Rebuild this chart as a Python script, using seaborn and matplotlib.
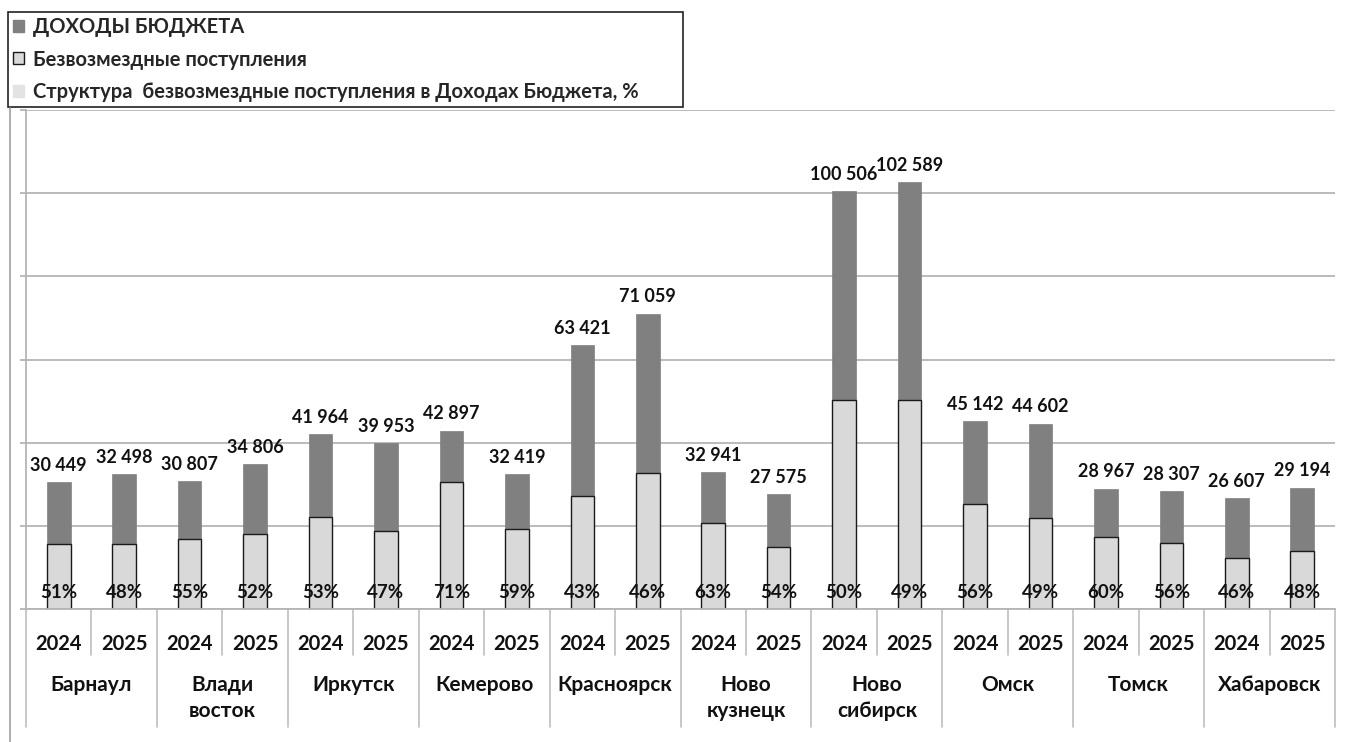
import matplotlib
matplotlib.use("Agg")
import matplotlib.pyplot as plt
import matplotlib.transforms as mtransforms
from matplotlib.lines import Line2D
from matplotlib.patches import Patch
import pandas as pd
import seaborn as sns

# data
cities = ["Барнаул", "Влади\nвосток", "Иркутск", "Кемерово", "Красноярск",
          "Ново\nкузнецк", "Ново\nсибирск", "Омск", "Томск", "Хабаровск"]
years = ["2024", "2025"]
income = [30449, 32498, 30807, 34806, 41964, 39953, 42897, 32419, 63421, 71059,
          32941, 27575, 100506, 102589, 45142, 44602, 28967, 28307, 26607, 29194]
grants = [15530, 15600, 16940, 18100, 22240, 18780, 30460, 19130, 27270, 32690,
          20750, 14890, 50250, 50270, 25280, 21860, 17380, 15850, 12240, 14010]
share = [51, 48, 55, 52, 53, 47, 71, 59, 43, 46,
         63, 54, 50, 49, 56, 49, 60, 56, 46, 48]

df = pd.DataFrame({
    "city": [c for c in cities for _ in years],
    "year": years * len(cities),
    "income": income,
    "grants": grants,
    "share": share,
})
df["slot"] = df["city"].str.replace("\n", " ") + " " + df["year"]

sns.set_theme(style="white")
plt.rcParams["font.family"] = ["Lato", "Noto Sans", "DejaVu Sans"]
plt.rcParams["font.weight"] = "bold"

W, H = 1346, 742
fig = plt.figure(figsize=(W / 100, H / 100), dpi=100)
ax = fig.add_axes([26 / W, (H - 609) / H, (1335 - 26) / W, (609 - 110) / H])

dark = "#808080"
light = "#d9d9d9"

sns.barplot(data=df, x="slot", y="income", order=df["slot"], color=dark,
            width=0.36, saturation=1, edgecolor=dark, linewidth=0.5, ax=ax)
sns.barplot(data=df, x="slot", y="grants", order=df["slot"], color=light,
            width=0.36, saturation=1, edgecolor="#1a1a1a", linewidth=1.0, ax=ax)

ax.set_xlim(-0.5, len(df) - 0.5)
ax.set_ylim(0, 120000)
ax.set_yticks(range(0, 120001, 20000))
ax.set_yticklabels([])
ax.yaxis.grid(True, color="#b5b5b5", linewidth=1.3)
ax.set_axisbelow(True)
ax.tick_params(axis="y", length=4, color="#b5b5b5", width=1.3, left=True)
for side in ["top", "right"]:
    ax.spines[side].set_visible(False)
ax.spines["left"].set_color("#b5b5b5")
ax.spines["bottom"].set_color("#b5b5b5")
ax.spines["left"].set_linewidth(1.3)
ax.spines["bottom"].set_linewidth(1.3)
ax.set_xlabel("")
ax.set_ylabel("")

# value labels
ax.bar_label(ax.containers[0], labels=[f"{v:,}".replace(",", " ") for v in income],
             padding=6, fontsize=13, fontweight="bold", color="#111111")
for i, p in enumerate(share):
    ax.annotate(f"{p}%", xy=(i, 0), xytext=(0, 17), textcoords="offset pixels",
                ha="center", va="center", fontsize=13.5, fontweight="bold",
                color="#111111")

# category table under the axis
ax.set_xticks(range(len(df)))
ax.set_xticklabels(df["year"], fontsize=14.5, fontweight="bold", color="#111111")
ax.tick_params(axis="x", length=0, pad=18)

trans = mtransforms.blended_transform_factory(ax.transData, ax.transAxes)
axh = 609 - 110
for i in range(len(df) + 1):
    depth = (727 - 609) / axh if i % 2 == 0 else (655 - 609) / axh
    ax.plot([i - 0.5, i - 0.5], [0, -depth], transform=trans, clip_on=False,
            color="#bfbfbf", linewidth=1.2)
for k, c in enumerate(cities):
    ax.text(2 * k + 0.5, -(675 - 609) / axh, c, transform=trans, ha="center",
            va="top", fontsize=15, fontweight="bold", color="#111111",
            linespacing=1.35)

fig.add_artist(Line2D([10 / W, 10 / W], [0, (H - 108) / H], transform=fig.transFigure,
                      color="#a0a0a0", linewidth=1.2))

handles = [Patch(facecolor=dark, edgecolor=dark),
           Patch(facecolor=light, edgecolor="#1a1a1a", linewidth=1),
           Patch(facecolor="#e3e3e3", edgecolor="#e3e3e3")]
labels = ["ДОХОДЫ БЮДЖЕТА", "Безвозмездные поступления",
          "Структура  безвозмездные поступления в Доходах Бюджета, %"]
leg = ax.legend(handles, labels, loc="upper left", mode="expand",
                bbox_to_anchor=(8 / W, (H - 108) / H, 675 / W, 96 / H),
                bbox_transform=fig.transFigure, frameon=True, fancybox=False,
                framealpha=1, edgecolor="#222222", borderaxespad=0,
                borderpad=0.25, labelspacing=0.62, handlelength=0.55,
                handleheight=0.55, handletextpad=0.45,
                prop={"size": 14.5, "weight": "bold"})
leg.get_frame().set_linewidth(1.2)

fig.savefig("out.png", dpi=100)
